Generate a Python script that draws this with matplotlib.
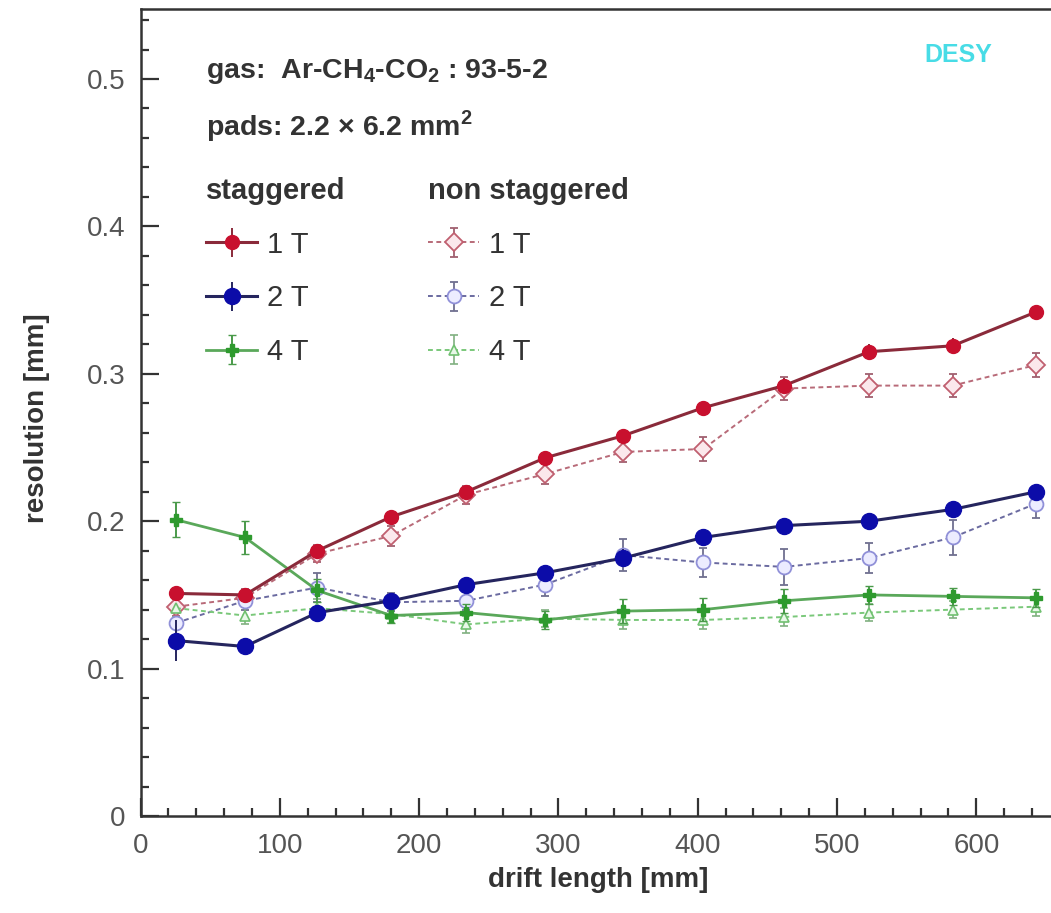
import matplotlib
matplotlib.use("Agg")
import matplotlib.pyplot as plt
from matplotlib.ticker import MultipleLocator

plt.rcParams['font.family'] = ['Liberation Sans', 'DejaVu Sans']
plt.rcParams['mathtext.fontset'] = 'custom'
plt.rcParams['mathtext.rm'] = 'Liberation Sans'
plt.rcParams['mathtext.bf'] = 'Liberation Sans:bold'

# ---------------- data ----------------
drift = [25.5, 75, 127, 180, 234, 290.5, 346.5, 404, 462, 523, 583, 643]

red_stag = [0.151, 0.150, 0.180, 0.203, 0.220, 0.243, 0.258, 0.277, 0.292, 0.315, 0.319, 0.342]
red_stag_err = [0.004, 0.004, 0.004, 0.004, 0.004, 0.004, 0.004, 0.004, 0.005, 0.005, 0.005, 0.005]
red_non = [0.142, 0.148, 0.178, 0.190, 0.218, 0.232, 0.247, 0.249, 0.290, 0.292, 0.292, 0.306]
red_non_err = [0.006, 0.006, 0.006, 0.007, 0.006, 0.007, 0.007, 0.008, 0.008, 0.008, 0.008, 0.008]

blue_stag = [0.119, 0.115, 0.138, 0.146, 0.157, 0.165, 0.175, 0.189, 0.197, 0.200, 0.208, 0.220]
blue_stag_err = [0.014, 0.004, 0.005, 0.004, 0.004, 0.004, 0.006, 0.004, 0.004, 0.004, 0.005, 0.005]
blue_non = [0.131, 0.146, 0.155, 0.145, 0.146, 0.157, 0.177, 0.172, 0.169, 0.175, 0.189, 0.212]
blue_non_err = [0.008, 0.006, 0.010, 0.006, 0.006, 0.008, 0.011, 0.010, 0.012, 0.010, 0.012, 0.010]

green_stag = [0.201, 0.189, 0.153, 0.136, 0.138, 0.133, 0.139, 0.140, 0.146, 0.150, 0.149, 0.148]
green_stag_err = [0.012, 0.011, 0.008, 0.005, 0.006, 0.006, 0.008, 0.008, 0.008, 0.006, 0.006, 0.006]
green_non = [0.141, 0.136, 0.141, 0.137, 0.130, 0.134, 0.133, 0.133, 0.135, 0.138, 0.140, 0.142]
green_non_err = [0.006, 0.006, 0.006, 0.006, 0.006, 0.006, 0.006, 0.006, 0.006, 0.006, 0.006, 0.006]

x_ticks = [0, 100, 200, 300, 400, 500, 600]
y_ticks = [0, 0.1, 0.2, 0.3, 0.4, 0.5]
y_ticklabels = ['0', '0.1', '0.2', '0.3', '0.4', '0.5']

# ---------------- figure ----------------
W, H = 1051, 913
fig = plt.figure(figsize=(W / 100, H / 100), dpi=100)
left_px, right_px, top_px, bottom_px = 140.5, 1051, 9, 816
ax = fig.add_axes([left_px / W, 1 - bottom_px / H, (right_px - left_px) / W, (bottom_px - top_px) / H])
ax.set_xlim(0, 653.6)
ax.set_ylim(0, 0.5475)

def fx(px):
    return px / W

def fy(py):
    return 1 - py / H

# staggered (solid)
h_r = ax.errorbar(drift, red_stag, yerr=red_stag_err, color='#8a2a3a', lw=2.2, ls='-',
                  marker='o', ms=10, mfc='#c8102e', mec='#c8102e', ecolor='#8a2a3a',
                  elinewidth=1.4, capsize=0, zorder=5)
h_b = ax.errorbar(drift, blue_stag, yerr=blue_stag_err, color='#25255e', lw=2.2, ls='-',
                  marker='o', ms=11.5, mfc='#0c0ca8', mec='#0c0ca8', ecolor='#25255e',
                  elinewidth=1.4, capsize=0, zorder=5)
h_g = ax.errorbar(drift, green_stag, yerr=green_stag_err, color='#5aa85a', lw=2.0, ls='-',
                  marker='P', ms=8, mfc='#2e9a2e', mec='#2e9a2e', ecolor='#4a9a4a',
                  elinewidth=1.4, capsize=3, zorder=4)

# non staggered (dashed, open)
dash = (0, (2.5, 1.8))
h_rn = ax.errorbar(drift, red_non, yerr=red_non_err, color='#b86a78', lw=1.4, ls=dash,
                   marker='D', ms=9, mfc='#fbe8ec', mec='#c06070', mew=1.3, ecolor='#a06070',
                   elinewidth=1.3, capsize=3, zorder=3)
h_bn = ax.errorbar(drift, blue_non, yerr=blue_non_err, color='#6a6aa0', lw=1.4, ls=dash,
                   marker='o', ms=10, mfc='#ececff', mec='#9090d8', mew=1.3, ecolor='#707090',
                   elinewidth=1.3, capsize=3, zorder=3)
h_gn = ax.errorbar(drift, green_non, yerr=green_non_err, color='#7ac87a', lw=1.4, ls=dash,
                   marker='^', ms=7, mfc='#e8f8e8', mec='#70c070', mew=1.2, ecolor='#80b080',
                   elinewidth=1.2, capsize=3, zorder=3)

# ---------------- axes styling ----------------
for s in ['left', 'bottom', 'top']:
    ax.spines[s].set_linewidth(1.8)
    ax.spines[s].set_color('#333333')
ax.spines['right'].set_visible(False)

ax.set_xticks(x_ticks)
ax.set_yticks(y_ticks)
ax.set_yticklabels(y_ticklabels)
ax.xaxis.set_minor_locator(MultipleLocator(20))
ax.yaxis.set_minor_locator(MultipleLocator(0.02))
ax.tick_params(which='both', direction='in', color='#333333', width=1.6,
               top=False, right=False, labelsize=20, labelcolor='#555555')
ax.tick_params(which='major', length=13)
ax.tick_params(which='minor', length=6)
ax.tick_params(axis='x', pad=12)
ax.tick_params(axis='y', pad=11)

fig.text(fx(598), fy(880), 'drift length [mm]', fontsize=20, fontweight='bold',
         color='#333333', ha='center', va='center')
fig.text(fx(37), fy(418), 'resolution [mm]', fontsize=20, fontweight='bold',
         color='#333333', ha='center', va='center', rotation=90)

# ---------------- annotations ----------------
fig.text(fx(206), fy(72), r'gas:  Ar-CH$_\mathbf{4}$-CO$_\mathbf{2}$ : 93-5-2', fontsize=20.5,
         fontweight='bold', color='#333333', ha='left', va='center')
fig.text(fx(206), fy(126), 'pads: 2.2 \u00d7 6.2 mm$^\\mathbf{2}$', fontsize=20.5,
         fontweight='bold', color='#333333', ha='left', va='center')
fig.text(fx(958), fy(55), 'DESY', fontsize=18, fontweight='bold', color='#48dce6',
         ha='center', va='center')

leg_kw = dict(frameon=False, fontsize=21, handlelength=1.75, handletextpad=0.35,
              labelspacing=0.88, borderpad=0, borderaxespad=0,
              title_fontproperties={'weight': 'bold', 'size': 21},
              bbox_transform=fig.transFigure, loc='upper left')
leg1 = ax.legend([h_r, h_b, h_g], ['1 T', '2 T', '4 T'], title='staggered',
                 bbox_to_anchor=(fx(206), fy(177)), **leg_kw)
leg1._legend_box.align = 'left'
for t in leg1.get_texts():
    t.set_color('#333333')
leg1.get_title().set_color('#333333')
ax.add_artist(leg1)
leg2 = ax.legend([h_rn, h_bn, h_gn], ['1 T', '2 T', '4 T'], title='non staggered',
                 bbox_to_anchor=(fx(428), fy(177)), **leg_kw)
leg2._legend_box.align = 'left'
for t in leg2.get_texts():
    t.set_color('#333333')
leg2.get_title().set_color('#333333')

fig.savefig('out.png', dpi=100)
